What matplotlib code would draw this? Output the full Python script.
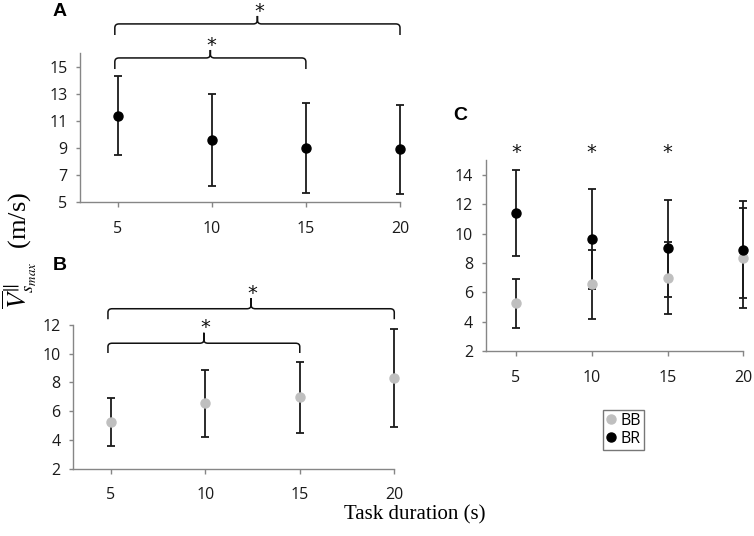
"""Max sliding velocity per task duration, panels A (BR), B (BB) and C (both)."""
import matplotlib
matplotlib.use("Agg")
import matplotlib.pyplot as plt
from matplotlib.lines import Line2D
from matplotlib.patches import PathPatch
from matplotlib.path import Path

# data
durations = [5, 10, 15, 20]
br_mean = [11.4, 9.6, 9.0, 8.9]
br_err = [2.9, 3.4, 3.3, 3.3]
bb_mean = [5.25, 6.55, 6.97, 8.33]
bb_err = [1.68, 2.35, 2.48, 3.4]
pairs_ab = [(5, 15), (5, 20)]
stars_c = [5, 10, 15]

GRAY = "#bfbfbf"
SPINE = "#868686"
ERR = "#1a1a1a"

plt.rcParams["mathtext.fontset"] = "stix"
plt.rcParams["font.family"] = ["Open Sans", "DejaVu Sans"]
plt.rcParams["xtick.major.pad"] = 10
plt.rcParams["ytick.major.pad"] = 6
plt.rcParams["xtick.major.size"] = 3.5
plt.rcParams["ytick.major.size"] = 3
plt.rcParams["xtick.labelsize"] = 11.5
plt.rcParams["ytick.labelsize"] = 11.5

fig = plt.figure(figsize=(7.54, 5.36), dpi=100)
ax_a = fig.add_axes([0.1061, 0.6231, 0.4244, 0.2771])
ax_b = fig.add_axes([0.0968, 0.1256, 0.4261, 0.2681])
ax_c = fig.add_axes([0.6442, 0.3451, 0.3416, 0.3563])


def style_axes(ax, ylim, yticks):
    ax.set_xlim(3, 20)
    ax.set_ylim(*ylim)
    ax.set_xticks(durations)
    ax.set_yticks(yticks)
    for side in ("top", "right"):
        ax.spines[side].set_visible(False)
    for side in ("left", "bottom"):
        ax.spines[side].set_color(SPINE)
        ax.spines[side].set_linewidth(1.0)
    ax.tick_params(colors=SPINE, labelcolor="#1a1a1a", width=1.0)


def draw_series(ax, mean, err, color, z):
    ax.errorbar(durations, mean, yerr=err, fmt="none", ecolor=ERR,
                elinewidth=1.3, capsize=3, capthick=1.3, zorder=2,
                clip_on=False)
    ax.plot(durations, mean, "o", color=color, markersize=6.5, zorder=z,
            clip_on=False)


def brace(ax, x0, x1, ybar, yend, ytip, dx=0.22, r=None):
    """Curly bracket above a pair of points, drawn in data coords."""
    if r is None:
        r = (ybar - yend) * 0.35
    xm = (x0 + x1) / 2.0
    verts = [
        (x0, yend), (x0, ybar - r),
        (x0, ybar), (x0 + dx, ybar),
        (xm - dx, ybar),
        (xm, ybar), (xm, ybar + r),
        (xm, ytip), (xm, ybar + r),
        (xm, ybar), (xm + dx, ybar),
        (x1 - dx, ybar),
        (x1, ybar), (x1, ybar - r),
        (x1, yend),
    ]
    codes = [Path.MOVETO, Path.LINETO,
             Path.CURVE3, Path.CURVE3,
             Path.LINETO,
             Path.CURVE3, Path.CURVE3,
             Path.LINETO, Path.LINETO,
             Path.CURVE3, Path.CURVE3,
             Path.LINETO,
             Path.CURVE3, Path.CURVE3,
             Path.LINETO]
    patch = PathPatch(Path(verts, codes), fill=False, edgecolor="#111111",
                      linewidth=1.1, clip_on=False)
    ax.add_patch(patch)


def star(ax, x, y):
    ax.text(x, y, "*", ha="center", va="center", fontsize=14,
            family="DejaVu Sans", color="#111111", clip_on=False)


# panel A: BR
style_axes(ax_a, (5, 16), [5, 7, 9, 11, 13, 15])
draw_series(ax_a, br_mean, br_err, "black", 3)
a_levels = [(15.67, 14.85, 16.26, 16.6), (18.19, 17.37, 18.78, 19.1)]
for (x0, x1), (yb, ye, yt, ys) in zip(pairs_ab, a_levels):
    brace(ax_a, x0 - 0.15, x1, yb, ye, yt)
    star(ax_a, (x0 + x1) / 2.0, ys)

# panel B: BB
style_axes(ax_b, (2, 12), [2, 4, 6, 8, 10, 12])
draw_series(ax_b, bb_mean, bb_err, GRAY, 3)
b_levels = [(10.73, 10.05, 11.46, 11.8), (13.13, 12.40, 13.86, 14.2)]
for (x0, x1), (yb, ye, yt, ys) in zip(pairs_ab, b_levels):
    brace(ax_b, x0 - 0.15, x1, yb, ye, yt)
    star(ax_b, (x0 + x1) / 2.0, ys)

# panel C: both
style_axes(ax_c, (2, 15), [2, 4, 6, 8, 10, 12, 14])
ax_c.errorbar(durations, bb_mean, yerr=bb_err, fmt="none", ecolor=ERR,
              elinewidth=1.3, capsize=3, capthick=1.3, zorder=2, clip_on=False)
ax_c.errorbar(durations, br_mean, yerr=br_err, fmt="none", ecolor=ERR,
              elinewidth=1.3, capsize=3, capthick=1.3, zorder=2, clip_on=False)
ax_c.plot(durations, bb_mean, "o", color=GRAY, markersize=6.5, zorder=3,
          clip_on=False)
ax_c.plot(durations, br_mean, "o", color="black", markersize=6.5, zorder=4,
          clip_on=False)
for x in stars_c:
    star(ax_c, x, 15.5)

handles = [
    Line2D([], [], marker="o", linestyle="none", color=GRAY, markersize=6.5),
    Line2D([], [], marker="o", linestyle="none", color="black", markersize=6.5),
]
leg = fig.legend(handles, ["BB", "BR"], loc="center",
                 bbox_to_anchor=(0.827, 0.198), fontsize=11.5, frameon=True,
                 fancybox=False, handlelength=0.6, handletextpad=0.3,
                 borderpad=0.2, labelspacing=0.1, borderaxespad=0)
leg.get_frame().set_edgecolor("#555555")
leg.get_frame().set_linewidth(1.0)

# panel letters and shared labels
for txt, x, y in [("A", 60, 12), ("B", 60, 266), ("C", 460, 115)]:
    fig.text(x / 754, 1 - y / 536, txt, ha="center", va="center",
             fontsize=14, fontweight="bold", family="Liberation Sans")

fig.text(20 / 754, 1 - 250 / 536,
         r"$\overline{V}^{\Vert}_{s_{max}}$  (m/s)",
         rotation=90, ha="center", va="center", fontsize=19,
         family="Liberation Serif")
fig.text(415 / 754, 1 - 515 / 536, "Task duration (s)", ha="center",
         va="center", fontsize=15, family="Liberation Serif")

fig.savefig("out.png", dpi=100)
plt.close(fig)
